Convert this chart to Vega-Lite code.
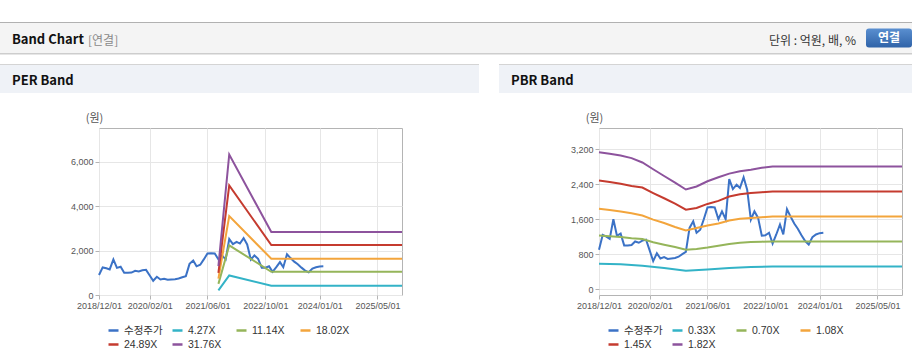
{
  "$schema": "https://vega.github.io/schema/vega-lite/v6.json",
  "padding": {"top": 22, "left": 0, "right": 0, "bottom": 0},
  "background": "white",
  "spacing": 0,
  "bounds": "full",
  "config": {
    "view": {"stroke": null},
    "font": "Liberation Sans, Noto Sans CJK KR",
    "axis": {
      "labelFont": "Liberation Sans",
      "labelFontSize": 9,
      "labelColor": "#555555",
      "gridColor": "#e6e6e6",
      "tickColor": "#b4b4b4",
      "tickSize": 4,
      "domain": false,
      "labelPadding": 2,
      "labelOverlap": false,
      "labelFlush": false
    },
    "legend": {
      "labelFont": "Liberation Sans, Noto Sans CJK KR",
      "labelFontSize": 10.5,
      "labelColor": "#333333"
    }
  },
  "datasets": {
    "price": [
      {"date": "2018-12-01", "series": "수정주가", "value": 900},
      {"date": "2019-01-01", "series": "수정주가", "value": 1240},
      {"date": "2019-02-01", "series": "수정주가", "value": 1200},
      {"date": "2019-03-01", "series": "수정주가", "value": 1150},
      {"date": "2019-04-01", "series": "수정주가", "value": 1600},
      {"date": "2019-05-01", "series": "수정주가", "value": 1220},
      {"date": "2019-06-01", "series": "수정주가", "value": 1270},
      {"date": "2019-07-01", "series": "수정주가", "value": 1000},
      {"date": "2019-08-01", "series": "수정주가", "value": 1000},
      {"date": "2019-09-01", "series": "수정주가", "value": 1010},
      {"date": "2019-10-01", "series": "수정주가", "value": 1090},
      {"date": "2019-11-01", "series": "수정주가", "value": 1060},
      {"date": "2019-12-01", "series": "수정주가", "value": 1110},
      {"date": "2020-01-01", "series": "수정주가", "value": 1130},
      {"date": "2020-02-01", "series": "수정주가", "value": 880},
      {"date": "2020-03-01", "series": "수정주가", "value": 640},
      {"date": "2020-04-01", "series": "수정주가", "value": 820},
      {"date": "2020-05-01", "series": "수정주가", "value": 700},
      {"date": "2020-06-01", "series": "수정주가", "value": 730},
      {"date": "2020-07-01", "series": "수정주가", "value": 690},
      {"date": "2020-08-01", "series": "수정주가", "value": 700},
      {"date": "2020-09-01", "series": "수정주가", "value": 710},
      {"date": "2020-10-01", "series": "수정주가", "value": 740},
      {"date": "2020-11-01", "series": "수정주가", "value": 800},
      {"date": "2020-12-01", "series": "수정주가", "value": 850},
      {"date": "2021-01-01", "series": "수정주가", "value": 1400},
      {"date": "2021-02-01", "series": "수정주가", "value": 1550},
      {"date": "2021-03-01", "series": "수정주가", "value": 1290},
      {"date": "2021-04-01", "series": "수정주가", "value": 1360},
      {"date": "2021-05-01", "series": "수정주가", "value": 1600},
      {"date": "2021-06-01", "series": "수정주가", "value": 1870},
      {"date": "2021-07-01", "series": "수정주가", "value": 1880},
      {"date": "2021-08-01", "series": "수정주가", "value": 1870},
      {"date": "2021-09-01", "series": "수정주가", "value": 1600},
      {"date": "2021-10-01", "series": "수정주가", "value": 1780},
      {"date": "2021-11-01", "series": "수정주가", "value": 1600},
      {"date": "2021-12-01", "series": "수정주가", "value": 2520},
      {"date": "2022-01-01", "series": "수정주가", "value": 2290},
      {"date": "2022-02-01", "series": "수정주가", "value": 2390},
      {"date": "2022-03-01", "series": "수정주가", "value": 2315},
      {"date": "2022-04-01", "series": "수정주가", "value": 2560},
      {"date": "2022-05-01", "series": "수정주가", "value": 2276},
      {"date": "2022-06-01", "series": "수정주가", "value": 1590},
      {"date": "2022-07-01", "series": "수정주가", "value": 1780},
      {"date": "2022-08-01", "series": "수정주가", "value": 1630},
      {"date": "2022-09-01", "series": "수정주가", "value": 1222},
      {"date": "2022-10-01", "series": "수정주가", "value": 1230},
      {"date": "2022-11-01", "series": "수정주가", "value": 1290},
      {"date": "2022-12-01", "series": "수정주가", "value": 1040},
      {"date": "2023-01-01", "series": "수정주가", "value": 1250},
      {"date": "2023-02-01", "series": "수정주가", "value": 1480},
      {"date": "2023-03-01", "series": "수정주가", "value": 1250},
      {"date": "2023-04-01", "series": "수정주가", "value": 1830},
      {"date": "2023-05-01", "series": "수정주가", "value": 1660},
      {"date": "2023-06-01", "series": "수정주가", "value": 1500},
      {"date": "2023-07-01", "series": "수정주가", "value": 1380},
      {"date": "2023-08-01", "series": "수정주가", "value": 1230},
      {"date": "2023-09-01", "series": "수정주가", "value": 1100},
      {"date": "2023-10-01", "series": "수정주가", "value": 1020},
      {"date": "2023-11-01", "series": "수정주가", "value": 1190},
      {"date": "2023-12-01", "series": "수정주가", "value": 1250},
      {"date": "2024-01-01", "series": "수정주가", "value": 1280},
      {"date": "2024-02-01", "series": "수정주가", "value": 1290}
    ],
    "perBand": [
      {"date": "2021-09-01", "series": "4.27X", "value": 210},
      {"date": "2021-12-01", "series": "4.27X", "value": 880},
      {"date": "2022-11-20", "series": "4.27X", "value": 420},
      {"date": "2025-11-24", "series": "4.27X", "value": 420},
      {"date": "2021-09-01", "series": "11.14X", "value": 500},
      {"date": "2021-12-01", "series": "11.14X", "value": 2230},
      {"date": "2022-11-20", "series": "11.14X", "value": 1045},
      {"date": "2025-11-24", "series": "11.14X", "value": 1045},
      {"date": "2021-09-01", "series": "18.02X", "value": 740},
      {"date": "2021-12-01", "series": "18.02X", "value": 3550},
      {"date": "2022-11-20", "series": "18.02X", "value": 1630},
      {"date": "2025-11-24", "series": "18.02X", "value": 1630},
      {"date": "2021-09-01", "series": "24.89X", "value": 1000},
      {"date": "2021-12-01", "series": "24.89X", "value": 4930},
      {"date": "2022-11-20", "series": "24.89X", "value": 2245},
      {"date": "2025-11-24", "series": "24.89X", "value": 2245},
      {"date": "2021-09-01", "series": "31.76X", "value": 1300},
      {"date": "2021-12-01", "series": "31.76X", "value": 6320},
      {"date": "2022-11-20", "series": "31.76X", "value": 2835},
      {"date": "2025-11-24", "series": "31.76X", "value": 2835}
    ],
    "pbrBand": [
      {"date": "2018-12-01", "series": "0.33X", "value": 580},
      {"date": "2019-06-01", "series": "0.33X", "value": 565},
      {"date": "2019-12-01", "series": "0.33X", "value": 535},
      {"date": "2020-06-01", "series": "0.33X", "value": 480},
      {"date": "2020-12-01", "series": "0.33X", "value": 419},
      {"date": "2021-06-01", "series": "0.33X", "value": 445},
      {"date": "2021-12-01", "series": "0.33X", "value": 480},
      {"date": "2022-06-01", "series": "0.33X", "value": 505},
      {"date": "2022-12-01", "series": "0.33X", "value": 518},
      {"date": "2025-11-24", "series": "0.33X", "value": 518},
      {"date": "2018-12-01", "series": "0.70X", "value": 1229},
      {"date": "2019-03-01", "series": "0.70X", "value": 1210},
      {"date": "2019-06-01", "series": "0.70X", "value": 1190},
      {"date": "2019-09-01", "series": "0.70X", "value": 1165},
      {"date": "2019-12-01", "series": "0.70X", "value": 1146},
      {"date": "2020-03-01", "series": "0.70X", "value": 1070},
      {"date": "2020-06-01", "series": "0.70X", "value": 1015},
      {"date": "2020-09-01", "series": "0.70X", "value": 962},
      {"date": "2020-12-01", "series": "0.70X", "value": 900},
      {"date": "2021-03-01", "series": "0.70X", "value": 917},
      {"date": "2021-06-01", "series": "0.70X", "value": 950},
      {"date": "2021-09-01", "series": "0.70X", "value": 990},
      {"date": "2021-12-01", "series": "0.70X", "value": 1030},
      {"date": "2022-03-01", "series": "0.70X", "value": 1060},
      {"date": "2022-06-01", "series": "0.70X", "value": 1077},
      {"date": "2022-09-01", "series": "0.70X", "value": 1085},
      {"date": "2022-12-01", "series": "0.70X", "value": 1091},
      {"date": "2025-11-24", "series": "0.70X", "value": 1091},
      {"date": "2018-12-01", "series": "1.08X", "value": 1840},
      {"date": "2019-03-01", "series": "1.08X", "value": 1810},
      {"date": "2019-06-01", "series": "1.08X", "value": 1775},
      {"date": "2019-09-01", "series": "1.08X", "value": 1735},
      {"date": "2019-12-01", "series": "1.08X", "value": 1685},
      {"date": "2020-03-01", "series": "1.08X", "value": 1590},
      {"date": "2020-06-01", "series": "1.08X", "value": 1512},
      {"date": "2020-09-01", "series": "1.08X", "value": 1421},
      {"date": "2020-12-01", "series": "1.08X", "value": 1343},
      {"date": "2021-03-01", "series": "1.08X", "value": 1398},
      {"date": "2021-06-01", "series": "1.08X", "value": 1455},
      {"date": "2021-09-01", "series": "1.08X", "value": 1500},
      {"date": "2021-12-01", "series": "1.08X", "value": 1570},
      {"date": "2022-03-01", "series": "1.08X", "value": 1610},
      {"date": "2022-06-01", "series": "1.08X", "value": 1627},
      {"date": "2022-09-01", "series": "1.08X", "value": 1645},
      {"date": "2022-12-01", "series": "1.08X", "value": 1664},
      {"date": "2025-11-24", "series": "1.08X", "value": 1664},
      {"date": "2018-12-01", "series": "1.45X", "value": 2489},
      {"date": "2019-03-01", "series": "1.45X", "value": 2455},
      {"date": "2019-06-01", "series": "1.45X", "value": 2410},
      {"date": "2019-09-01", "series": "1.45X", "value": 2360},
      {"date": "2019-12-01", "series": "1.45X", "value": 2325},
      {"date": "2020-03-01", "series": "1.45X", "value": 2200},
      {"date": "2020-06-01", "series": "1.45X", "value": 2080},
      {"date": "2020-09-01", "series": "1.45X", "value": 1955},
      {"date": "2020-12-01", "series": "1.45X", "value": 1818},
      {"date": "2021-03-01", "series": "1.45X", "value": 1856},
      {"date": "2021-06-01", "series": "1.45X", "value": 1950},
      {"date": "2021-09-01", "series": "1.45X", "value": 2020},
      {"date": "2021-12-01", "series": "1.45X", "value": 2120},
      {"date": "2022-03-01", "series": "1.45X", "value": 2170},
      {"date": "2022-06-01", "series": "1.45X", "value": 2200},
      {"date": "2022-09-01", "series": "1.45X", "value": 2220},
      {"date": "2022-12-01", "series": "1.45X", "value": 2237},
      {"date": "2025-11-24", "series": "1.45X", "value": 2237},
      {"date": "2018-12-01", "series": "1.82X", "value": 3135},
      {"date": "2019-03-01", "series": "1.82X", "value": 3100},
      {"date": "2019-06-01", "series": "1.82X", "value": 3060},
      {"date": "2019-09-01", "series": "1.82X", "value": 3000},
      {"date": "2019-12-01", "series": "1.82X", "value": 2900},
      {"date": "2020-03-01", "series": "1.82X", "value": 2745},
      {"date": "2020-06-01", "series": "1.82X", "value": 2590},
      {"date": "2020-09-01", "series": "1.82X", "value": 2440},
      {"date": "2020-12-01", "series": "1.82X", "value": 2280},
      {"date": "2021-03-01", "series": "1.82X", "value": 2350},
      {"date": "2021-06-01", "series": "1.82X", "value": 2470},
      {"date": "2021-09-01", "series": "1.82X", "value": 2560},
      {"date": "2021-12-01", "series": "1.82X", "value": 2645},
      {"date": "2022-03-01", "series": "1.82X", "value": 2700},
      {"date": "2022-06-01", "series": "1.82X", "value": 2735},
      {"date": "2022-09-01", "series": "1.82X", "value": 2780},
      {"date": "2022-12-01", "series": "1.82X", "value": 2810},
      {"date": "2025-11-24", "series": "1.82X", "value": 2810}
    ]
  },
  "vconcat": [
    {"width": 912, "height": 1, "view": {"fill": "#b1b1b1"}, "data": {"values": []}, "mark": "point"},
    {
      "hconcat": [
        {"width": 88, "height": 30, "view": {"fill": "#f4f4f4"}, "data": {"values": []}, "mark": "point",
         "title": {"text": "Band Chart", "anchor": "start", "frame": "group", "dx": 12, "offset": -34, "baseline": "alphabetic", "font": "Noto Sans CJK KR", "fontSize": 13, "fontWeight": "bold", "color": "#111111"}},
        {"width": 681, "height": 30, "view": {"fill": "#f4f4f4"}, "data": {"values": []}, "mark": "point",
         "title": {"text": "[연결]", "anchor": "start", "frame": "group", "dx": 0, "offset": -34, "baseline": "alphabetic", "font": "Noto Sans CJK KR", "fontSize": 12, "fontWeight": "normal", "color": "#8a8a8a"}},
        {"width": 97, "height": 30, "view": {"fill": "#f4f4f4"}, "data": {"values": []}, "mark": "point",
         "title": {"text": "단위 : 억원, 배, %", "anchor": "start", "frame": "group", "dx": 0, "offset": -34, "baseline": "alphabetic", "font": "Noto Sans CJK KR", "fontSize": 12, "fontWeight": "normal", "color": "#333333"}},
        {"width": 46, "height": 30, "view": {"fill": "#f4f4f4"}, "data": {"values": [{"label": "연결"}]},
         "layer": [
           {"mark": {"type": "point", "shape": "M-0.87,-0.413 L0.87,-0.413 Q1,-0.413 1,-0.283 L1,0.283 Q1,0.413 0.87,0.413 L-0.87,0.413 Q-1,0.413 -1,0.283 L-1,-0.283 Q-1,-0.413 -0.87,-0.413 Z", "size": 2116, "filled": true, "opacity": 1, "strokeWidth": 0, "fill": {"gradient": "linear", "x1": 0, "y1": 0, "x2": 0, "y2": 1, "stops": [{"offset": 0, "color": "#5a8fd0"}, {"offset": 1, "color": "#2f63a8"}]}}},
           {"mark": {"type": "text", "color": "white", "fontWeight": "bold", "fontSize": 12, "font": "Noto Sans CJK KR"}, "encoding": {"text": {"field": "label"}}}
         ]}
      ],
      "spacing": 0,
      "bounds": "flush"
    },
    {"width": 912, "height": 1, "view": {"fill": "#cdcdcd"}, "data": {"values": []}, "mark": "point"},
    {"width": 912, "height": 1, "view": {"fill": "#e6e6e6"}, "data": {"values": []}, "mark": "point"},
    {"width": 912, "height": 9, "data": {"values": []}, "mark": "point"},
    {
      "hconcat": [
        {"width": 479, "height": 1, "view": {"fill": "#d4d4d4"}, "data": {"values": []}, "mark": "point"},
        {"width": 20, "height": 1, "data": {"values": []}, "mark": "point"},
        {"width": 413, "height": 1, "view": {"fill": "#d4d4d4"}, "data": {"values": []}, "mark": "point"}
      ],
      "spacing": 0,
      "bounds": "flush"
    },
    {
      "hconcat": [
        {"width": 479, "height": 28, "view": {"fill": "#eff2f7"}, "data": {"values": []}, "mark": "point",
         "title": {"text": "PER Band", "anchor": "start", "frame": "group", "dx": 12, "offset": -33, "baseline": "alphabetic", "font": "Noto Sans CJK KR", "fontSize": 13, "fontWeight": "bold", "color": "#111111"}},
        {"width": 20, "height": 28, "data": {"values": []}, "mark": "point"},
        {"width": 413, "height": 28, "view": {"fill": "#eff2f7"}, "data": {"values": []}, "mark": "point",
         "title": {"text": "PBR Band", "anchor": "start", "frame": "group", "dx": 12, "offset": -33, "baseline": "alphabetic", "font": "Noto Sans CJK KR", "fontSize": 13, "fontWeight": "bold", "color": "#111111"}}
      ],
      "spacing": 0,
      "bounds": "flush"
    },
    {"width": 912, "height": 18, "data": {"values": []}, "mark": "point"},
    {
      "hconcat": [
        {"width": 99, "height": 167, "data": {"values": []}, "mark": "point"},
        {
          "width": 303, "height": 167,
          "view": {"stroke": "#b4b4b4"},
          "encoding": {
            "x": {"field": "date", "type": "temporal",
                  "scale": {"type": "utc", "domain": [{"year": 2018, "month": 12, "date": 1, "utc": true}, {"year": 2025, "month": 11, "date": 24, "utc": true}]},
                  "axis": {"title": null, "format": "%Y/%m/%d", "grid": true,
                           "values": [{"year": 2018, "month": 12, "date": 1, "utc": true}, {"year": 2020, "month": 2, "date": 1, "utc": true}, {"year": 2021, "month": 6, "date": 1, "utc": true}, {"year": 2022, "month": 10, "date": 1, "utc": true}, {"year": 2024, "month": 1, "date": 1, "utc": true}, {"year": 2025, "month": 5, "date": 1, "utc": true}]}},
            "y": {"field": "value", "type": "quantitative",
                  "scale": {"domain": [0, 7511], "nice": false, "zero": false},
                  "axis": {"title": "(원)", "titleAngle": 0, "titleX": -5, "titleY": -7, "titleAlign": "center", "titleBaseline": "alphabetic", "titleFont": "Noto Sans CJK KR", "titleFontSize": 11, "titleFontWeight": "normal", "titleColor": "#555555", "values": [0, 2000, 4000, 6000], "format": ",d", "grid": true}},
            "color": {"field": "series", "type": "nominal",
                      "scale": {"domain": ["수정주가", "4.27X", "11.14X", "18.02X", "24.89X", "31.76X"], "range": ["#3b72c6", "#33b3c7", "#95b55a", "#f3a53c", "#c53b2f", "#8d539d"]},
                      "legend": {"title": null, "orient": "none", "legendX": 8, "legendY": 196, "direction": "horizontal", "columns": 4, "gridAlign": "all", "symbolType": "stroke", "symbolSize": 100, "symbolStrokeWidth": 2.5, "labelOffset": 4, "columnPadding": 4, "rowPadding": 2}}
          },
          "layer": [
            {"data": {"name": "price"}, "mark": {"type": "line", "strokeWidth": 2}},
            {"data": {"name": "perBand"}, "mark": {"type": "line", "strokeWidth": 2}}
          ]
        },
        {"width": 197, "height": 167, "data": {"values": []}, "mark": "point"},
        {
          "width": 303, "height": 167,
          "view": {"stroke": "#b4b4b4"},
          "encoding": {
            "x": {"field": "date", "type": "temporal",
                  "scale": {"type": "utc", "domain": [{"year": 2018, "month": 12, "date": 1, "utc": true}, {"year": 2025, "month": 11, "date": 24, "utc": true}]},
                  "axis": {"title": null, "format": "%Y/%m/%d", "grid": true,
                           "values": [{"year": 2018, "month": 12, "date": 1, "utc": true}, {"year": 2020, "month": 2, "date": 1, "utc": true}, {"year": 2021, "month": 6, "date": 1, "utc": true}, {"year": 2022, "month": 10, "date": 1, "utc": true}, {"year": 2024, "month": 1, "date": 1, "utc": true}, {"year": 2025, "month": 5, "date": 1, "utc": true}]}},
            "y": {"field": "value", "type": "quantitative",
                  "scale": {"domain": [-137, 3690], "nice": false, "zero": false},
                  "axis": {"title": "(원)", "titleAngle": 0, "titleX": -5, "titleY": -7, "titleAlign": "center", "titleBaseline": "alphabetic", "titleFont": "Noto Sans CJK KR", "titleFontSize": 11, "titleFontWeight": "normal", "titleColor": "#555555", "values": [0, 800, 1600, 2400, 3200], "format": ",d", "grid": true}},
            "color": {"field": "series", "type": "nominal",
                      "scale": {"domain": ["수정주가", "0.33X", "0.70X", "1.08X", "1.45X", "1.82X"], "range": ["#3b72c6", "#33b3c7", "#95b55a", "#f3a53c", "#c53b2f", "#8d539d"]},
                      "legend": {"title": null, "orient": "none", "legendX": 8, "legendY": 196, "direction": "horizontal", "columns": 4, "gridAlign": "all", "symbolType": "stroke", "symbolSize": 100, "symbolStrokeWidth": 2.5, "labelOffset": 4, "columnPadding": 4, "rowPadding": 2}}
          },
          "layer": [
            {"data": {"name": "price"}, "mark": {"type": "line", "strokeWidth": 2}},
            {"data": {"name": "pbrBand"}, "mark": {"type": "line", "strokeWidth": 2}}
          ]
        }
      ],
      "spacing": 0,
      "bounds": "flush",
      "resolve": {"scale": {"color": "independent", "x": "independent", "y": "independent"}, "legend": {"color": "independent"}}
    },
    {"width": 912, "height": 18, "data": {"values": []}, "mark": "point"},
    {
      "hconcat": [
        {"width": 479, "height": 1, "view": {"fill": "#dddddd"}, "data": {"values": []}, "mark": "point"},
        {"width": 20, "height": 1, "data": {"values": []}, "mark": "point"},
        {"width": 413, "height": 1, "view": {"fill": "#dddddd"}, "data": {"values": []}, "mark": "point"}
      ],
      "spacing": 0,
      "bounds": "flush"
    }
  ]
}
